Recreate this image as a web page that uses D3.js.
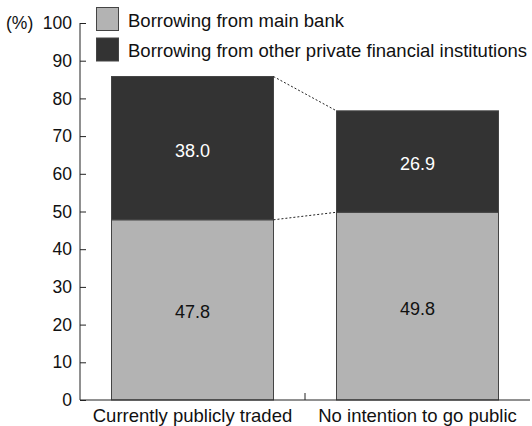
<!DOCTYPE html>
<html>
<head>
<meta charset="utf-8">
<script src="https://cdn.jsdelivr.net/npm/d3@7"></script>
<style>
  body { margin: 0; background: #fff; }
  svg { display: block; font-family: "Liberation Sans", Arial, sans-serif; }
</style>
</head>
<body>
<svg id="chart" width="532" height="426"></svg>
<script>
// Categories and stacked series (percent of firms)
const categories = ["Currently publicly traded", "No intention to go public"];
const seriesNames = ["Borrowing from main bank", "Borrowing from other private financial institutions"];
const mainBank = [47.8, 49.8];
const otherPrivate = [38.0, 26.9];
const yTicks = [0, 10, 20, 30, 40, 50, 60, 70, 80, 90, 100];
const colors = ["#b3b3b3", "#333333"];

const svg = d3.select("#chart");
const mLeft = 80, mRight = 530, mTop = 23, mBottom = 400;

const x = d3.scaleBand().domain(categories).range([mLeft, mRight]).paddingInner(0.28).paddingOuter(0.14);
const xb = d3.scaleBand().domain(categories).range([mLeft, mRight]);
const y = d3.scaleLinear().domain([0, 100]).range([mBottom, mTop]);

const rows = categories.map((c, i) => ({ cat: c, main: mainBank[i], other: otherPrivate[i] }));
const stack = d3.stack().keys(["main", "other"])(rows);

// Bars
stack.forEach((layer, li) => {
  svg.append("g").selectAll("rect").data(layer).join("rect")
    .attr("x", d => x(d.data.cat))
    .attr("width", x.bandwidth())
    .attr("y", d => y(d[1]))
    .attr("height", d => y(d[0]) - y(d[1]))
    .attr("fill", colors[li])
    .attr("stroke", "#444")
    .attr("stroke-width", 1);
  svg.append("g").selectAll("text").data(layer).join("text")
    .attr("x", d => x(d.data.cat) + x.bandwidth() / 2)
    .attr("y", d => (y(d[0]) + y(d[1])) / 2 + 2)
    .attr("dy", "0.36em")
    .attr("text-anchor", "middle")
    .attr("font-size", 18)
    .attr("fill", li === 0 ? "#111" : "#fff")
    .text(d => (d[1] - d[0]).toFixed(1));
});

// Dotted connectors between the two stacks
const c0 = categories[0], c1 = categories[1];
[[mainBank[0], mainBank[1]], [mainBank[0] + otherPrivate[0], mainBank[1] + otherPrivate[1]]].forEach(([a, b]) => {
  svg.append("line")
    .attr("x1", x(c0) + x.bandwidth()).attr("y1", y(a))
    .attr("x2", x(c1)).attr("y2", y(b))
    .attr("stroke", "#222").attr("stroke-width", 1)
    .attr("stroke-dasharray", "2,2");
});

// Y axis (ticks pointing inward)
const yAxis = svg.append("g").attr("transform", `translate(${mLeft},0)`)
  .call(d3.axisRight(y).tickValues(yTicks).tickSize(6).tickFormat(d3.format("d")));
yAxis.select(".domain").attr("stroke", "#222").attr("d", `M0,${mTop}V${mBottom}`);
yAxis.selectAll(".tick line").attr("stroke", "#222");
yAxis.selectAll(".tick text")
  .attr("x", -8).attr("text-anchor", "end")
  .attr("font-size", 17.5).attr("fill", "#111").attr("font-family", "Liberation Sans, Arial, sans-serif");

svg.append("text").attr("x", 6).attr("y", y(100)).attr("dy", "0.32em")
  .attr("font-size", 17.5).attr("fill", "#111").text("(%)");

// X axis with a divider tick between categories
svg.append("line").attr("x1", mLeft).attr("x2", mRight).attr("y1", mBottom).attr("y2", mBottom)
  .attr("stroke", "#222").attr("stroke-width", 1);
svg.append("line").attr("x1", xb(c1)).attr("x2", xb(c1)).attr("y1", mBottom).attr("y2", mBottom - 7)
  .attr("stroke", "#222").attr("stroke-width", 1);
svg.append("g").selectAll("text").data(categories).join("text")
  .attr("x", d => x(d) + x.bandwidth() / 2)
  .attr("y", 422)
  .attr("text-anchor", "middle")
  .attr("font-size", 18.5).attr("fill", "#111")
  .text(d => d);

// Legend
const legend = svg.append("g");
seriesNames.forEach((n, i) => {
  legend.append("rect").attr("x", 96.5).attr("y", 7.5 + i * 30.5).attr("width", 22).attr("height", 23)
    .attr("fill", colors[i]).attr("stroke", "#444");
  legend.append("text").attr("x", 128).attr("y", 27 + i * 30.3)
    .attr("font-size", 18.5).attr("fill", "#111").text(n);
});
</script>
</body>
</html>
